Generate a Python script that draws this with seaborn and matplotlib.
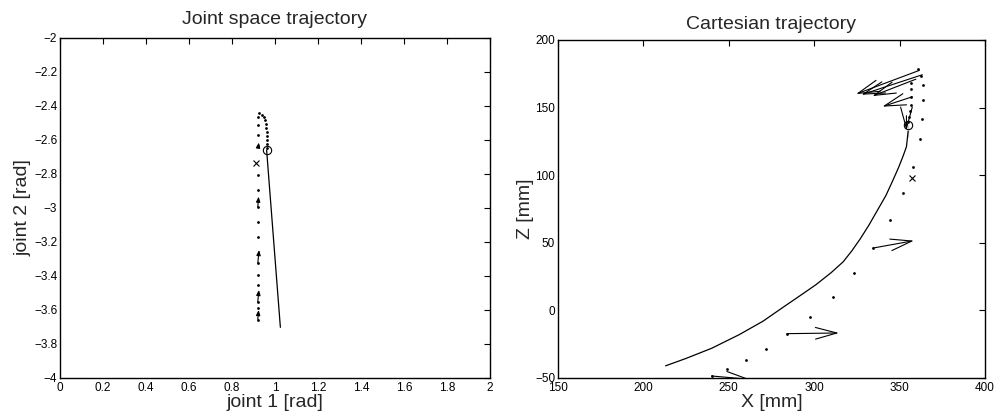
import numpy as np
import pandas as pd
import matplotlib
matplotlib.use("Agg")
import matplotlib.pyplot as plt
from matplotlib.patches import FancyArrowPatch
import seaborn as sns

# ---- joint space data ----
joint_line_q1 = [0.961, 1.025]
joint_line_q2 = [-2.659, -3.702]
joint_start = (0.961, -2.659)
joint_cross = (0.910, -2.737)

joint_dots_q1 = [0.926, 0.940, 0.949, 0.953, 0.958, 0.960, 0.961, 0.961, 0.961, 0.961, 0.961,
                 0.922, 0.922, 0.922, 0.922, 0.922, 0.922, 0.922, 0.922, 0.922, 0.922,
                 0.922, 0.922, 0.922, 0.922, 0.922]
joint_dots_q2 = [-2.441, -2.453, -2.465, -2.482, -2.506, -2.529, -2.553, -2.576, -2.600, -2.624, -2.645,
                 -2.463, -2.512, -2.571, -2.635, -2.806, -2.894, -2.992, -3.081, -3.169, -3.324,
                 -3.394, -3.453, -3.551, -3.588, -3.659]

# small velocity arrows (start -> end)
joint_arr_q1_start = [0.922, 0.920, 0.920, 0.920, 0.920]
joint_arr_q2_start = [-2.640, -2.992, -3.324, -3.551, -3.655]
joint_arr_q1_end = [0.925, 0.924, 0.926, 0.925, 0.924]
joint_arr_q2_end = [-2.615, -2.933, -3.247, -3.482, -3.600]

# ---- cartesian data ----
cart_line_x = [213, 225, 240, 256, 270, 282, 293, 301, 310, 317, 322, 327, 332,
               337, 342, 346, 349.5, 352, 354, 355, 355]
cart_line_z = [-41, -35.5, -28, -18, -8, 2.5, 12, 19, 28, 36, 44, 53, 63,
               74, 85, 96, 106, 114, 121, 128, 137]
cart_start = (355, 137)
cart_cross = (357.5, 98)

cart_dots_x = [360.7, 362.7, 363.7, 363.7, 363.3, 361.7, 357.8, 351.9, 344.6, 334.4, 323.3, 311.0,
               297.4, 284.1, 271.6, 260.0, 249.2, 239.9,
               356.8, 356.8, 356.8, 356.4, 355.8, 355.3, 355.0]
cart_dots_z = [178.5, 173.6, 166.5, 155.4, 141.8, 126.5, 106.2, 86.8, 67.0, 46.1, 27.7, 10.1,
               -4.7, -17.2, -28.3, -36.8, -43.1, -48.5,
               168.2, 163.8, 158.2, 152.2, 147.4, 143.0, 139.1]

cart_arr_x_start = [361.5, 363.3, 359.5, 357.4, 334.4, 284.1, 239.9, 354.0]
cart_arr_z_start = [177.5, 174.3, 171.0, 158.0, 46.1, -17.2, -48.5, 144.0]
cart_arr_x_end = [324.5, 327.6, 334.0, 339.9, 358.4, 314.5, 262.3, 354.0]
cart_arr_z_end = [160.0, 159.5, 158.5, 150.7, 51.6, -16.7, -51.0, 133.0]

sns.set_style("white")
plt.rcParams["font.family"] = ["Liberation Sans", "DejaVu Sans"]
plt.rcParams["xtick.direction"] = "in"
plt.rcParams["ytick.direction"] = "in"

fig = plt.figure(figsize=(9.94, 4.2), dpi=100)
ax1 = fig.add_axes([60 / 994, 42 / 420, 430 / 994, 340 / 420])
ax2 = fig.add_axes([558 / 994, 42 / 420, 427 / 994, 338 / 420])


def style_axes(ax):
    for s in ax.spines.values():
        s.set_color("black")
        s.set_linewidth(1.0)
    ax.tick_params(which="both", direction="in", length=4, width=0.8, labelsize=8.5,
                   top=True, right=True, colors="black")
    ax.tick_params(axis="x", pad=3)
    ax.tick_params(axis="y", pad=2)


# joint space
sns.lineplot(x=joint_line_q1, y=joint_line_q2, sort=False, color="black", lw=0.9, ax=ax1)
sns.scatterplot(x=joint_dots_q1, y=joint_dots_q2, color="black", s=4, linewidth=0, ax=ax1)
ax1.plot(*joint_start, marker="o", mfc="none", mec="black", ms=6, mew=0.8)
ax1.plot(*joint_cross, marker="x", color="black", ms=5, mew=0.8)
for x0, y0, x1, y1 in zip(joint_arr_q1_start, joint_arr_q2_start, joint_arr_q1_end, joint_arr_q2_end):
    ax1.add_patch(FancyArrowPatch((x0, y0), (x1, y1), arrowstyle="-|>,head_length=0.3,head_width=0.12",
                                  mutation_scale=10, color="black", lw=0.8, shrinkA=0, shrinkB=0))
ax1.set_xlim(0, 2)
ax1.set_ylim(-4, -2)
ax1.set_xticks(np.arange(0, 2.01, 0.2))
ax1.set_yticks(np.arange(-4, -1.99, 0.2))
ax1.set_xticklabels(["0", "0.2", "0.4", "0.6", "0.8", "1", "1.2", "1.4", "1.6", "1.8", "2"])
ax1.set_yticklabels(["\u22124", "\u22123.8", "\u22123.6", "\u22123.4", "\u22123.2", "\u22123",
                     "\u22122.8", "\u22122.6", "\u22122.4", "\u22122.2", "\u22122"])
ax1.set_title("Joint space trajectory", fontsize=14, pad=10)
ax1.set_xlabel("joint 1 [rad]", fontsize=14, labelpad=0)
ax1.set_ylabel("joint 2 [rad]", fontsize=14, labelpad=2)
style_axes(ax1)

# cartesian
sns.lineplot(x=cart_line_x, y=cart_line_z, sort=False, color="black", lw=0.9, ax=ax2)
sns.scatterplot(x=cart_dots_x, y=cart_dots_z, color="black", s=4, linewidth=0, ax=ax2)
ax2.plot(*cart_start, marker="o", mfc="none", mec="black", ms=6, mew=0.8)
ax2.plot(*cart_cross, marker="x", color="black", ms=5, mew=0.8)
for x0, y0, x1, y1 in zip(cart_arr_x_start, cart_arr_z_start, cart_arr_x_end, cart_arr_z_end):
    ax2.add_patch(FancyArrowPatch((x0, y0), (x1, y1), arrowstyle="->,head_length=1.1,head_width=0.3",
                                  mutation_scale=14, color="black", lw=0.8, shrinkA=0, shrinkB=0))
ax2.set_xlim(150, 400)
ax2.set_ylim(-50, 200)
ax2.set_xticks(np.arange(150, 401, 50))
ax2.set_yticks(np.arange(-50, 201, 50))
ax2.set_yticklabels(["\u221250", "0", "50", "100", "150", "200"])
ax2.set_title("Cartesian trajectory", fontsize=14, pad=8)
ax2.set_xlabel("X [mm]", fontsize=14, labelpad=0)
ax2.set_ylabel("Z [mm]", fontsize=14, labelpad=1)
style_axes(ax2)

fig.savefig("out.png", dpi=100)
